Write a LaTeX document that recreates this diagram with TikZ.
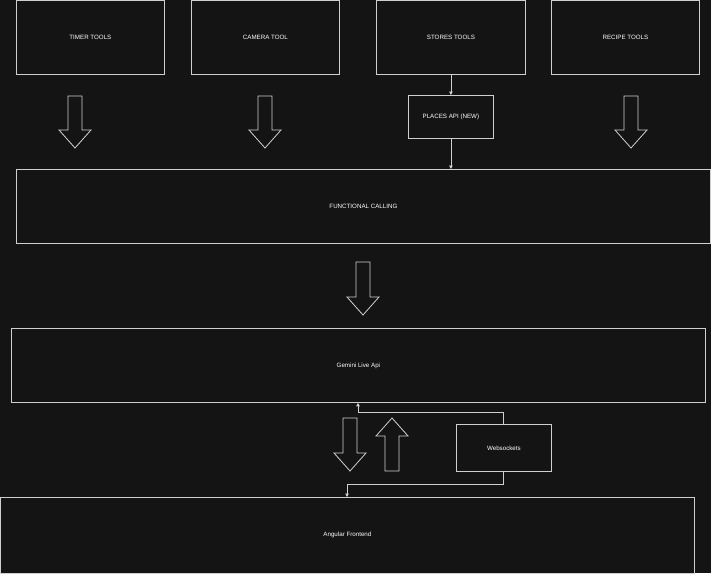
\documentclass[tikz,border=0pt]{standalone}
\usepackage{fontspec}
\setmainfont{Liberation Sans}
\usetikzlibrary{arrows.meta}
\definecolor{bg}{HTML}{141414}
\definecolor{ln}{HTML}{CFCFCF}
\begin{document}
\begin{tikzpicture}[x=1pt,y=-1pt,
 box/.style={draw=ln,line width=0.8pt,fill=bg,text=white,font=\fontsize{6.2}{7}\selectfont},
 conn/.style={draw=ln,line width=0.8pt,-{Triangle[length=3.5pt,width=3.5pt,open,fill=white]}},
 barr/.style={draw=ln,line width=0.8pt}]
\fill[bg] (0,0) rectangle (711,573);
\useasboundingbox (0,0) rectangle (711,573);
\newcommand\mkbox[6]{\node[box,minimum width=#4-#2,minimum height=#5-#3,anchor=north west,inner sep=0pt] (#1) at (#2,#3) {#6};}
\mkbox{timer}{16}{0}{164}{74}{TIMER TOOLS}
\mkbox{camera}{191}{0}{339}{74}{CAMERA TOOL}
\mkbox{stores}{376}{0}{525}{74}{STORES TOOLS}
\mkbox{recipe}{551}{0}{699}{74}{RECIPE TOOLS}
\mkbox{places}{408}{95}{493}{138}{PLACES API (NEW)}
\mkbox{func}{16}{169}{710}{243}{FUNCTIONAL CALLING}
\mkbox{gemini}{11}{328}{705}{402}{Gemini Live Api}
\mkbox{ws}{456}{424}{551}{471}{Websockets}
\mkbox{ang}{0}{497}{694}{572.5}{Angular Frontend}
\newcommand\darr[3]{\draw[barr] (#1-7,#2) -- (#1+7,#2) -- (#1+7,#3-18) -- (#1+16,#3-18) -- (#1,#3) -- (#1-16,#3-18) -- (#1-7,#3-18) -- cycle;}
\newcommand\uarr[3]{\draw[barr] (#1-7,#3) -- (#1+7,#3) -- (#1+7,#2+18) -- (#1+16,#2+18) -- (#1,#2) -- (#1-16,#2+18) -- (#1-7,#2+18) -- cycle;}
\darr{75}{96}{148}
\darr{265}{96}{148}
\darr{631}{96}{148}
\darr{363}{262}{315}
\darr{350}{418}{471}
\uarr{392}{418}{471}
\draw[conn] (stores.south -| places.north) -- (places.north);
\draw[conn] (places.south) -- (places.south |- func.north);
\coordinate (w1) at (503,412);
\coordinate (w2) at (358,412);
\draw[conn] (ws.north -| w1) -- (w1) -- (w2) -- (w2 |- gemini.south);
\coordinate (w3) at (503,484);
\coordinate (w4) at (347,484);
\draw[conn] (ws.south -| w3) -- (w3) -- (w4) -- (w4 |- ang.north);
\end{tikzpicture}
\end{document}
